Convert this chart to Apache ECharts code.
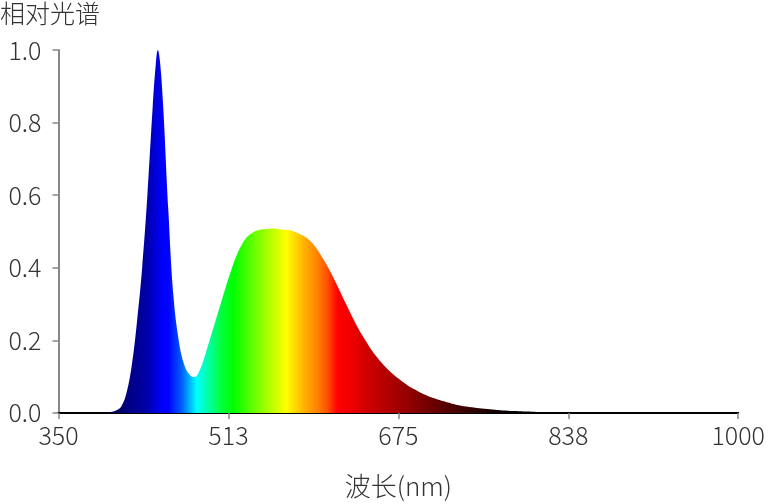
<!DOCTYPE html>
<html>
<head>
<meta charset="utf-8">
<script src="https://cdn.jsdelivr.net/npm/echarts@6/dist/echarts.min.js"></script>
<style>
html,body{margin:0;padding:0;background:#fff;}
#chart{width:768px;height:504px;}
</style>
</head>
<body>
<div id="chart"></div>
<script>
// Wavelengths (nm) and relative spectral values
const wavelengths = [350,360,370,380,390,395,400,405,410,415,420,425,430,435,440,443,445,447,450,455,460,465,470,475,480,485,490,495,500,505,510,515,520,525,530,535,540,545,550,555,560,565,570,575,580,585,590,595,600,605,610,615,620,625,630,635,640,645,650,655,660,665,670,675,680,685,690,695,700,705,710,715,720,725,730,740,750,760,770,780,790,800,810,820,830,850,900,950,1000];
const relSpectrum = [0.003,0.002,0.001,0.001,0.001,0.002,0.003,0.007,0.018,0.055,0.13,0.25,0.40,0.60,0.84,0.96,1.0,0.97,0.85,0.56,0.32,0.20,0.135,0.107,0.099,0.118,0.158,0.205,0.252,0.300,0.348,0.392,0.432,0.462,0.484,0.496,0.503,0.506,0.507,0.508,0.507,0.505,0.504,0.500,0.494,0.487,0.476,0.460,0.439,0.415,0.389,0.360,0.330,0.300,0.270,0.242,0.216,0.193,0.171,0.152,0.135,0.120,0.107,0.095,0.084,0.074,0.066,0.058,0.051,0.045,0.040,0.035,0.031,0.027,0.023,0.018,0.014,0.011,0.008,0.006,0.005,0.004,0.002,0.001,0,0,0,0,0];

// Colour of the fill at each wavelength
const colorWavelengths = [350,395,400,416,434,450,455,468,482,494,505,517,548,568,585,598,607,617,630,645,686,724,757,780,1000];
const colorValues = ['#000000','#000020','#000050','#000080','#0000a8','#0000ff','#0000ff','#0060ff','#00ffff','#00ffa0','#00ff40','#00ff00','#a0ff00','#ffff00','#ffb000','#ff8000','#ff5000','#ff0000','#f00000','#d00000','#900000','#500000','#200000','#000000','#000000'];

const xTicks = [350, 512.5, 675, 837.5, 1000];
const xTickLabels = ['350','513','675','838','1000'];
const xMin = 350, xMax = 1000;

const titleText = '相对光谱';
const xName = '波长(nm)';

const font = '"Noto Sans CJK SC", "Noto Sans", sans-serif';

const data = wavelengths.map((w, i) => [w, relSpectrum[i]]);
const stops = colorWavelengths.map((w, i) => ({ offset: (w - xMin) / (xMax - xMin), color: colorValues[i] }));

const chart = echarts.init(document.getElementById('chart'), null, { renderer: 'canvas' });
chart.setOption({
  animation: false,
  backgroundColor: '#ffffff',
  title: {
    text: titleText,
    left: -5,
    top: -4,
    textStyle: { fontFamily: font, fontSize: 25, fontWeight: 300, color: '#333' }
  },
  grid: { left: 58.5, right: 25, top: 50, bottom: 86, containLabel: false },
  xAxis: {
    type: 'value',
    min: xMin,
    max: xMax,
    name: xName,
    nameLocation: 'middle',
    nameGap: 60,
    nameTextStyle: { fontFamily: font, fontSize: 26, fontWeight: 300, color: '#333', verticalAlign: 'top' },
    axisLine: { show: true, onZero: false, lineStyle: { color: '#000', width: 2 } },
    axisTick: { show: true, length: 6, customValues: xTicks, lineStyle: { color: '#888', width: 1.5 } },
    axisLabel: {
      customValues: xTicks,
      margin: 10,
      fontFamily: font, fontSize: 25, fontWeight: 300, color: '#333',
      formatter: (v) => { const i = xTicks.indexOf(v); return i >= 0 ? xTickLabels[i] : ''; }
    },
    splitLine: { show: false }
  },
  yAxis: {
    type: 'value',
    min: 0,
    max: 1,
    interval: 0.2,
    axisLine: { show: true, lineStyle: { color: '#888', width: 2 } },
    axisTick: { show: true, length: 6, lineStyle: { color: '#888', width: 1.5 } },
    axisLabel: {
      margin: 17,
      fontFamily: font, fontSize: 25, fontWeight: 300, color: '#333',
      formatter: (v) => v.toFixed(1)
    },
    splitLine: { show: false }
  },
  series: [{
    type: 'line',
    data: data,
    smooth: 0.4,
    showSymbol: false,
    lineStyle: { width: 0 },
    areaStyle: {
      opacity: 1,
      color: new echarts.graphic.LinearGradient(0, 0, 1, 0, stops)
    }
  }]
});
</script>
</body>
</html>
